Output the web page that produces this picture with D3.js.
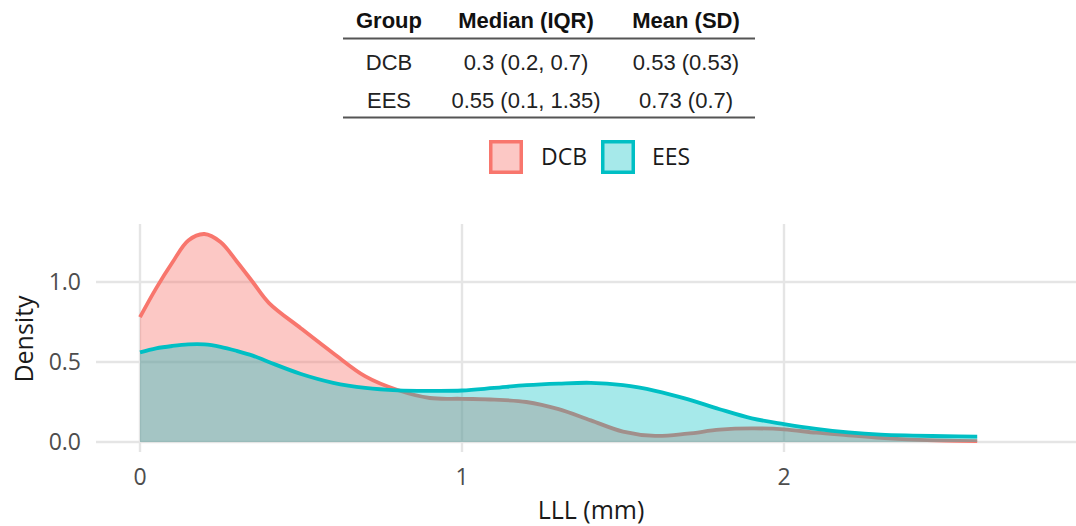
<!DOCTYPE html>
<html><head><meta charset="utf-8">
<script src="https://cdn.jsdelivr.net/npm/d3@7"></script>
<style>body{margin:0;background:#fff}svg{display:block}</style>
</head><body>
<svg id="c" width="1076" height="526"></svg>
<script>
const xs = [0,0.05,0.1,0.15,0.2,0.25,0.3,0.35,0.4,0.5,0.6,0.7,0.8,0.9,1.0,1.1,1.2,1.3,1.4,1.5,1.6,1.7,1.8,1.9,2.0,2.1,2.2,2.3,2.4,2.5,2.6];
const dcb = [0.78,0.96,1.12,1.26,1.30,1.25,1.13,1.00,0.87,0.71,0.555,0.41,0.325,0.275,0.27,0.265,0.25,0.205,0.135,0.065,0.038,0.052,0.077,0.085,0.079,0.058,0.042,0.026,0.015,0.009,0.006];
const ees = [0.56,0.585,0.60,0.61,0.61,0.595,0.57,0.54,0.50,0.425,0.37,0.338,0.323,0.32,0.322,0.338,0.355,0.365,0.37,0.355,0.32,0.268,0.205,0.148,0.112,0.082,0.06,0.046,0.04,0.036,0.033];
const groups = ["DCB","EES"];
const colors = ["#F8766D","#00BFC4"];
const xTicks = [0,1,2];
const yTicks = [0,0.5,1.0];
const tableHeader = ["Group","Median (IQR)","Mean (SD)"];
const tableRows = [["DCB","0.3 (0.2, 0.7)","0.53 (0.53)"],["EES","0.55 (0.1, 1.35)","0.73 (0.7)"]];

const svg = d3.select("#c");
const x = d3.scaleLinear().domain([0,2.6]).range([140,977.2]);
const y = d3.scaleLinear().domain([0,1.0]).range([442,282]);
const panel = {l:96, r:1076, t:224, b:452};

// grid
const g = svg.append("g");
g.selectAll(".hg").data(yTicks).enter().append("line")
  .attr("x1",panel.l).attr("x2",panel.r).attr("y1",d=>y(d)).attr("y2",d=>y(d))
  .attr("stroke","#e5e5e5").attr("stroke-width",2.4);
g.selectAll(".vg").data(xTicks).enter().append("line")
  .attr("y1",panel.t).attr("y2",panel.b).attr("x1",d=>x(d)).attr("x2",d=>x(d))
  .attr("stroke","#e5e5e5").attr("stroke-width",2.4);

// areas
const series = [dcb, ees];
const alphas = [0.4, 0.35];
const curve = d3.curveCatmullRom.alpha(0.5);
series.forEach((s,i)=>{
  const pts = xs.map((v,j)=>[v,s[j]]);
  const area = d3.area().x(d=>x(d[0])).y0(y(0)).y1(d=>y(d[1])).curve(curve);
  const line = d3.line().x(d=>x(d[0])).y(d=>y(d[1])).curve(curve);
  svg.append("path").attr("d",area(pts)).attr("fill",colors[i]).attr("fill-opacity",alphas[i]);
  svg.append("path").attr("d",line(pts)).attr("fill","none").attr("stroke",colors[i]).attr("stroke-width",3.8);
});

// axis labels
const tickFont = "'Open Sans', sans-serif";
svg.selectAll(".yt").data(yTicks).enter().append("text")
  .attr("x",81).attr("y",d=>y(d)).attr("dy","0.36em").attr("text-anchor","end")
  .attr("font-family",tickFont).attr("font-size",23).attr("fill","#4d4d4d")
  .text(d=>d3.format(".1f")(d));
svg.selectAll(".xt").data(xTicks).enter().append("text")
  .attr("x",d=>x(d)).attr("y",477).attr("dy","0.36em").attr("text-anchor","middle")
  .attr("font-family",tickFont).attr("font-size",23).attr("fill","#4d4d4d")
  .text(d=>d);
svg.append("text").attr("x",591).attr("y",510).attr("dy","0.36em").attr("text-anchor","middle")
  .attr("font-family",tickFont).attr("font-size",25).attr("fill","#1a1a1a").text("LLL (mm)");
svg.append("text").attr("transform","translate(24,339) rotate(-90)").attr("dy","0.36em").attr("text-anchor","middle")
  .attr("font-family",tickFont).attr("font-size",25).attr("fill","#1a1a1a").text("Density");

// legend
const leg = [{x:489,tx:541},{x:601,tx:652}];
groups.forEach((gname,i)=>{
  svg.append("rect").attr("x",leg[i].x+1.75).attr("y",141.75).attr("width",30.5).attr("height",30.5)
    .attr("fill",colors[i]).attr("fill-opacity",alphas[i]).attr("stroke",colors[i]).attr("stroke-width",3.5);
  svg.append("text").attr("x",leg[i].tx).attr("y",157).attr("dy","0.36em")
    .attr("font-family",tickFont).attr("font-size",23).attr("fill","#1a1a1a").text(gname);
});

// table
const colX = [389,526,686];
const tf = "'Liberation Sans', Arial, sans-serif";
svg.selectAll(".th").data(tableHeader).enter().append("text")
  .attr("x",(d,i)=>colX[i]).attr("y",20.5).attr("dy","0.36em").attr("text-anchor","middle")
  .attr("font-family",tf).attr("font-size",22).attr("font-weight","bold").attr("fill","#111").text(d=>d);
tableRows.forEach((r,ri)=>{
  svg.selectAll(".tr"+ri).data(r).enter().append("text")
    .attr("x",(d,i)=>colX[i]).attr("y",62+ri*38).attr("dy","0.36em").attr("text-anchor","middle")
    .attr("font-family",tf).attr("font-size",22).attr("fill","#222").text(d=>d);
});
[38.5,117.5].forEach(yy=>{
  svg.append("line").attr("x1",343).attr("x2",755).attr("y1",yy).attr("y2",yy)
    .attr("stroke","#555").attr("stroke-width",1.8);
});
</script>
</body></html>
